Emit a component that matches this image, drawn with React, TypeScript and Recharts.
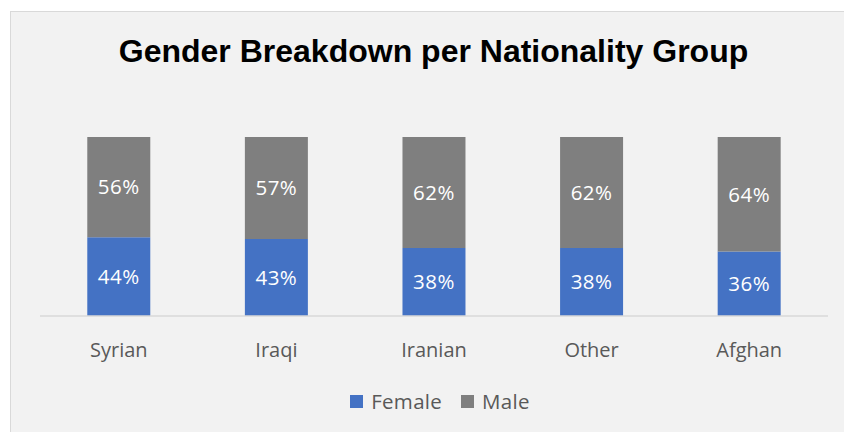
import { Bar, BarChart, LabelList, Legend, XAxis, YAxis } from 'recharts'

const nationalities = ['Syrian', 'Iraqi', 'Iranian', 'Other', 'Afghan']
const femaleShare = [44, 43, 38, 38, 36]
const maleShare = [56, 57, 62, 62, 64]

const data = nationalities.map((name, i) => ({
  name,
  female: femaleShare[i],
  male: maleShare[i],
}))

const FONT = '"Open Sans", sans-serif'
const FEMALE = '#4472c4'
const MALE = '#7f7f7f'

function LegendContent() {
  const items = [
    { label: 'Female', color: FEMALE },
    { label: 'Male', color: MALE },
  ]
  return (
    <div
      style={{
        height: 36,
        display: 'flex',
        alignItems: 'center',
        justifyContent: 'center',
        gap: 19,
        paddingLeft: 12,
        boxSizing: 'border-box',
      }}
    >
      {items.map((it) => (
        <div key={it.label} style={{ display: 'flex', alignItems: 'center', gap: 8 }}>
          <span style={{ width: 13, height: 13, background: it.color, display: 'inline-block' }} />
          <span style={{ fontFamily: FONT, fontSize: 20.5, color: '#595959', letterSpacing: 0.3 }}>{it.label}</span>
        </div>
      ))}
    </div>
  )
}

export default function App() {
  return (
    <div style={{ position: 'absolute', left: 0, top: 0, width: 844, height: 432, background: '#fff', overflow: 'hidden' }}>
      <div
        style={{
          position: 'absolute',
          left: 10,
          top: 11,
          width: 860,
          height: 440,
          background: '#f2f2f2',
          border: '1px solid #d9d9d9',
          boxSizing: 'border-box',
        }}
      />
      <div
        style={{
          position: 'absolute',
          left: 0,
          width: 867,
          top: 31,
          textAlign: 'center',
          fontFamily: '"Liberation Sans", Arial, sans-serif',
          fontWeight: 700,
          fontSize: 32,
          lineHeight: '40px',
          color: '#000',
        }}
      >
        Gender Breakdown per Nationality Group
      </div>
      <div style={{ position: 'absolute', left: 0, top: 0 }}>
        <BarChart
          width={844}
          height={432}
          data={data}
          margin={{ top: 137, right: 16, left: 40, bottom: 13 }}
          barCategoryGap="30%"
        >
          <XAxis
            dataKey="name"
            height={67}
            axisLine={{ stroke: '#d9d9d9', strokeWidth: 1.5 }}
            tickLine={false}
            tickMargin={21}
            tick={{ fill: '#595959', fontSize: 20, fontFamily: FONT }}
          />
          <YAxis hide domain={[0, 100]} />
          <Legend verticalAlign="bottom" content={<LegendContent />} />
          <Bar dataKey="female" stackId="a" fill={FEMALE} isAnimationActive={false}>
            <LabelList
              dataKey="female"
              position="center"
              formatter={(v: number) => `${v}%`}
              style={{ fill: '#fff', fontSize: 20.5, fontFamily: FONT, letterSpacing: 0.5 }}
            />
          </Bar>
          <Bar dataKey="male" stackId="a" fill={MALE} isAnimationActive={false}>
            <LabelList
              dataKey="male"
              position="center"
              formatter={(v: number) => `${v}%`}
              style={{ fill: '#fff', fontSize: 20.5, fontFamily: FONT, letterSpacing: 0.5 }}
            />
          </Bar>
        </BarChart>
      </div>
    </div>
  )
}
